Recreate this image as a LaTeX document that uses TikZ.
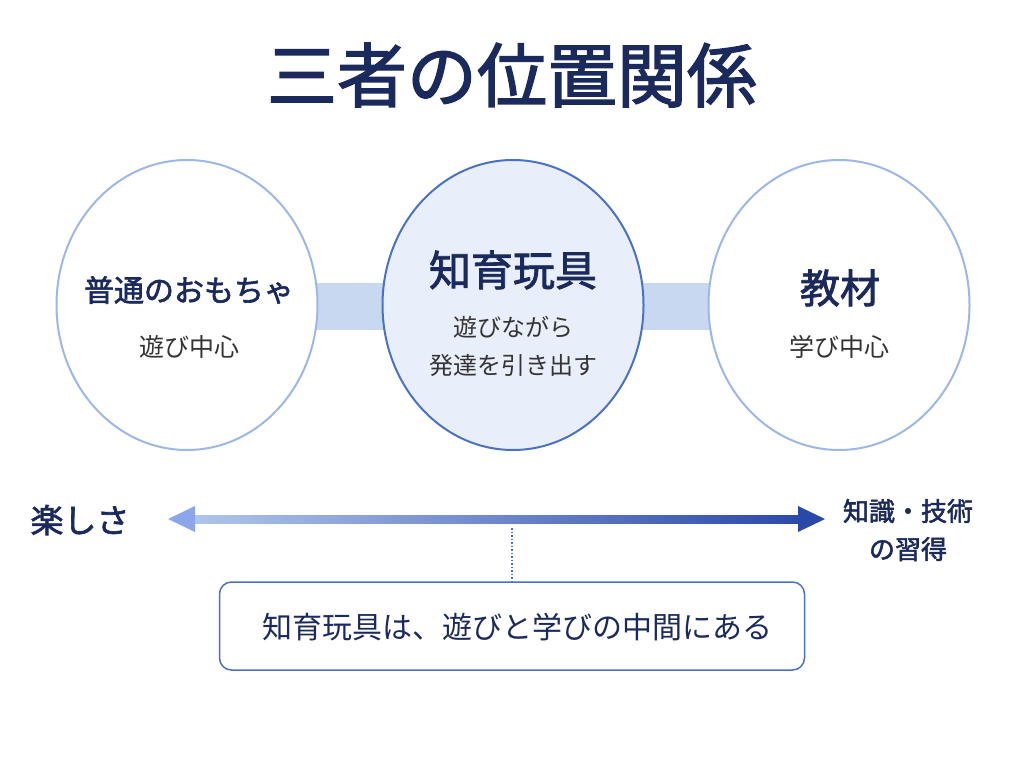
\documentclass[tikz,border=0pt]{standalone}
\usepackage{fontspec}
\setmainfont{Noto Sans CJK JP}
\newfontfamily\jpb{Noto Sans CJK JP}[FakeBold=2]
\usetikzlibrary{shapes.geometric}
\definecolor{navy}{HTML}{1B2A5C}
\definecolor{ring}{HTML}{9DB8E6}
\definecolor{ringd}{HTML}{4A72C4}
\definecolor{bar}{HTML}{C8D8F0}
\definecolor{mid}{HTML}{E8EEFA}
\definecolor{arrd}{HTML}{2A48A8}
\definecolor{txt}{HTML}{333333}
\begin{document}
\begin{tikzpicture}[x=1pt,y=-1pt,
 circ/.style={ellipse,minimum width=261pt,minimum height=290pt,draw=ring,line width=2pt,fill=white},
 sub/.style={font=\fontsize{24}{38}\selectfont,text=txt,align=center}]
\useasboundingbox[fill=white] (0,0) rectangle (1024,768);
\node[font=\jpb\fontsize{70}{72}\selectfont,text=navy] (title) at (512,75) {三者の位置関係};
\fill[bar] (300,283) rectangle (400,330);
\fill[bar] (626,283) rectangle (725,330);
\node[circ] (l) at (187,305) {};
\node[circ,draw=ringd,fill=mid] (m) at (513,305) {};
\node[circ] (r) at (839,305) {};
\node[font=\jpb\fontsize{30}{32}\selectfont,text=navy] (lh) at (189,290) {普通のおもちゃ};
\node[sub,font=\fontsize{25}{30}\selectfont] (ls) at (189,347) {遊び中心};
\node[font=\jpb\fontsize{42}{44}\selectfont,text=navy] (mh) at (513,270) {知育玩具};
\node[sub] (ms) at (513,346) {遊びながら\\発達を引き出す};
\node[font=\jpb\fontsize{40}{42}\selectfont,text=navy] (rh) at (840,288) {教材};
\node[sub,font=\fontsize{25}{30}\selectfont] (rs) at (839,347) {学び中心};
\shade[left color=ring!80,right color=arrd] (188,515) rectangle (805,523);
\fill[ring!90!blue] (168,519) -- (195,506) -- (195,532) -- cycle;
\fill[arrd] (825,519) -- (798,506) -- (798,532) -- cycle;
\node[font=\jpb\fontsize{33}{35}\selectfont,text=navy] (fun) at (80,520) {楽しさ};
\node[font=\jpb\fontsize{26}{38}\selectfont,text=navy,align=center] (sk) at (908,530) {知識・技術\\の習得};
\node[draw=ringd,line width=1.5pt,rounded corners=12pt,minimum width=585pt,minimum height=88pt] (box) at (512,626) {};
\node[font=\fontsize{30}{32}\selectfont,text=navy] (boxt) at (517,627) {知育玩具は、遊びと学びの中間にある};
\coordinate (dt) at (512,528);
\draw[ringd,line width=1.5pt,dotted] (dt) -- (box.north);
\end{tikzpicture}
\end{document}
